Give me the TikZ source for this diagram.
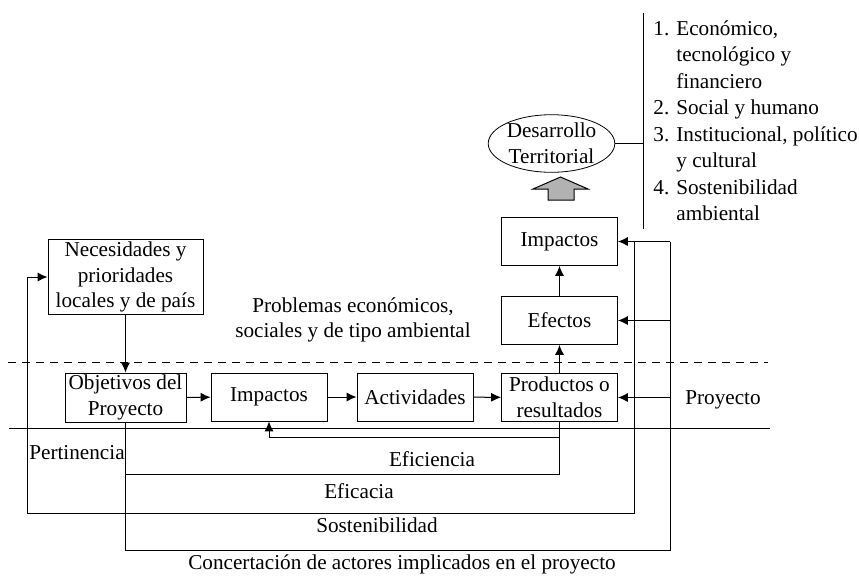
\documentclass[tikz,border=0pt]{standalone}
\usepackage{fontspec}
\setmainfont{Liberation Serif}
\usetikzlibrary{arrows.meta,shapes.geometric}

\begin{document}
\begin{tikzpicture}[x=0.5pt,y=-0.5pt,
   every node/.style={font=\fontsize{10.6}{12.9}\selectfont},
   caja/.style={draw, align=center, inner sep=1pt, minimum width=58pt, minimum height=24pt},
   flecha/.style={-{Latex[length=5pt,width=4.5pt]}},
   linea/.style={line width=0.5pt}]
   \useasboundingbox (0,0) rectangle (859,575);
   % cajas del proyecto
   \node[caja, minimum width=77.5pt, minimum height=36pt] (nec) at (125.5,277) {Necesidades y\\prioridades\\locales y de país};
   \node[caja, minimum width=60.5pt] (obj)  at (125.5,397.5) {Objetivos del\\Proyecto};
   \node[caja] (imp)  at (269,397)   {Impactos};
   \node[caja] (act)  at (415,397)   {Actividades};
   \node[caja] (prod) at (559.5,397.5) {Productos o\\resultados};
   \node[caja] (efe)  at (559.5,320.5) {Efectos};
   \node[caja] (impt) at (559.5,241.5) {Impactos};
   \node[draw, ellipse, align=center, inner sep=0pt, minimum width=54.5pt, minimum height=26.5pt] (des) at (551.5,143.5) {Desarrollo\\Territorial};
   % lista de dimensiones
   \node[anchor=west, align=left, inner sep=0pt, font=\fontsize{10.6}{13.25}\selectfont] (lista) at (653,121)
      {1. Económico,\\\phantom{1. }tecnológico y\\\phantom{1. }financiero\\2. Social y humano\\3. Institucional, político\\\phantom{1. }y cultural\\4. Sostenibilidad\\\phantom{1. }ambiental};
   \coordinate (lt) at (643,13);
   \coordinate (lb) at (643,229);
   \draw[linea] (lt) -- (lb);
   \draw[linea] (des.east) -- (des.east -| lt);
   % flecha gruesa
   \filldraw[fill=gray!60, draw=black, linea] (548,200) -- (548,189) -- (533,189) -- (560.5,177)
      -- (588,189) -- (574,189) -- (574,200) -- cycle;
   % limites
   \draw[linea, dash pattern=on 4pt off 3pt] (8,362) -- (768,362);
   \draw[linea] (9,428) -- (770,428);
   % cadena
   \draw[linea, flecha] (nec) -- (obj);
   \draw[linea, flecha] (obj) -- (imp);
   \draw[linea, flecha] (imp) -- (act);
   \draw[linea, flecha] (act) -- (prod);
   \draw[linea, flecha] (prod) -- (efe);
   \draw[linea, flecha] (efe) -- (impt);
   % retornos
   \coordinate (bus1) at (634,513);
   \coordinate (bus2) at (670,550);
   \coordinate (pert) at (27,513);
   \coordinate (efi)  at (559.5,437);
   \coordinate (efc)  at (559.5,474);
   \draw[linea] (bus2 |- impt.east) -- (bus2) -| (obj.south);
   \draw[linea, flecha] (bus2 |- impt.east) -- (impt.east);
   \draw[linea, flecha] (bus2 |- efe.east) -- (efe.east);
   \draw[linea, flecha] (bus2 |- prod.east) -- (prod.east);
   \draw[linea, flecha] (bus1 |- impt.east) -- (bus1) -- (pert) |- (nec.west);
   \draw[linea, flecha] (prod.south) -- (efi) -| (imp.south);
   \draw[linea] (efi) -- (efc) -- (efc -| obj.south);
   % textos
   \node[align=center] (prob) at (353,320) {Problemas económicos,\\sociales y de tipo ambiental};
   \node (proy) at (723,400) {Proyecto};
   \node (pertl) at (77,453) {Pertinencia};
   \node (efil) at (432,459) {Eficiencia};
   \node (efcl) at (359,491) {Eficacia};
   \node (sosl) at (377,525) {Sostenibilidad};
   \node (conl) at (402,564) {Concertación de actores implicados en el proyecto};
\end{tikzpicture}
\end{document}
